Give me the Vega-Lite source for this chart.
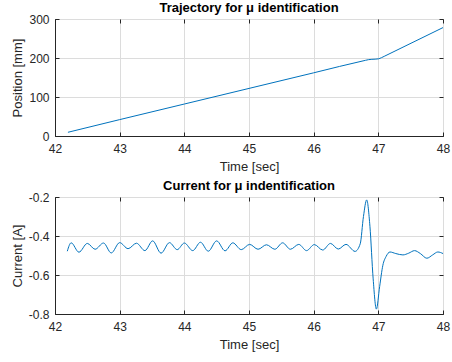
{
  "$schema": "https://vega.github.io/schema/vega-lite/v6.json",
  "background": "white",
  "padding": {"left": 10, "top": 1, "right": 0, "bottom": 5},
  "spacing": 5,
  "config": {
    "font": "Liberation Sans",
    "view": {"stroke": "#262626", "strokeWidth": 1},
    "axis": {
      "domainColor": "#262626",
      "domainWidth": 1,
      "tickColor": "#262626",
      "tickSize": -4,
      "labelColor": "#262626",
      "labelFont": "Liberation Sans",
      "labelFontSize": 12,
      "titleColor": "#262626",
      "titleFont": "Liberation Sans",
      "titleFontSize": 13,
      "titleFontWeight": "normal",
      "gridColor": "#dcdcdc",
      "gridWidth": 1
    },
    "title": {"font": "Liberation Sans", "fontSize": 13, "fontWeight": "bold", "color": "#000000", "offset": -2}
  },
  "vconcat": [
    {
      "width": 388,
      "height": 117,
      "title": "Trajectory for μ identification",
      "data": {"values": [
        {"t": 42.2, "pos": 9.5},
        {"t": 43.0, "pos": 42},
        {"t": 44.0, "pos": 82},
        {"t": 45.0, "pos": 122},
        {"t": 46.0, "pos": 162},
        {"t": 46.8, "pos": 194},
        {"t": 46.85, "pos": 195.8},
        {"t": 46.9, "pos": 196.6},
        {"t": 46.95, "pos": 197},
        {"t": 47.0, "pos": 197.8},
        {"t": 47.05, "pos": 201},
        {"t": 47.1, "pos": 205},
        {"t": 48.0, "pos": 278}
      ]},
      "layer": [
        {
          "mark": {"type": "line", "color": "#0072BD", "strokeWidth": 1, "interpolate": "monotone", "clip": true},
          "encoding": {
            "x": {"field": "t", "type": "quantitative", "scale": {"domain": [42, 48], "nice": false, "zero": false},
                  "axis": {"title": "Time [sec]", "values": [42, 43, 44, 45, 46, 47, 48], "labelPadding": 11, "titlePadding": 6, "labelFlush": false}},
            "y": {"field": "pos", "type": "quantitative", "scale": {"domain": [0, 300], "nice": false},
                  "axis": {"title": "Position [mm]", "values": [0, 100, 200, 300], "labelPadding": 10, "titlePadding": 4}}
          }
        },
        {
          "mark": {"type": "line", "opacity": 0},
          "encoding": {
            "x": {"field": "t", "type": "quantitative",
                  "axis": {"orient": "top", "title": null, "labels": false, "grid": false, "domain": false, "values": [42, 43, 44, 45, 46, 47, 48]}},
            "y": {"field": "pos", "type": "quantitative",
                  "axis": {"orient": "right", "title": null, "labels": false, "grid": false, "domain": false, "values": [0, 100, 200, 300]}}
          }
        }
      ],
      "resolve": {"axis": {"x": "independent", "y": "independent"}}
    },
    {
      "width": 388,
      "height": 117,
      "title": "Current for μ indentification",
      "data": {"values": [
        {"t": 42.19, "cur": -0.478},
        {"t": 42.25, "cur": -0.435},
        {"t": 42.37, "cur": -0.483},
        {"t": 42.50, "cur": -0.438},
        {"t": 42.62, "cur": -0.468},
        {"t": 42.75, "cur": -0.436},
        {"t": 42.87, "cur": -0.487},
        {"t": 43.00, "cur": -0.434},
        {"t": 43.13, "cur": -0.465},
        {"t": 43.26, "cur": -0.437},
        {"t": 43.39, "cur": -0.475},
        {"t": 43.51, "cur": -0.425},
        {"t": 43.64, "cur": -0.488},
        {"t": 43.77, "cur": -0.434},
        {"t": 43.89, "cur": -0.470},
        {"t": 44.00, "cur": -0.436},
        {"t": 44.13, "cur": -0.475},
        {"t": 44.25, "cur": -0.432},
        {"t": 44.37, "cur": -0.478},
        {"t": 44.50, "cur": -0.425},
        {"t": 44.63, "cur": -0.476},
        {"t": 44.75, "cur": -0.435},
        {"t": 44.88, "cur": -0.470},
        {"t": 45.01, "cur": -0.443},
        {"t": 45.14, "cur": -0.468},
        {"t": 45.27, "cur": -0.445},
        {"t": 45.40, "cur": -0.468},
        {"t": 45.52, "cur": -0.435},
        {"t": 45.64, "cur": -0.468},
        {"t": 45.77, "cur": -0.443},
        {"t": 45.89, "cur": -0.475},
        {"t": 46.01, "cur": -0.444},
        {"t": 46.14, "cur": -0.472},
        {"t": 46.26, "cur": -0.438},
        {"t": 46.38, "cur": -0.467},
        {"t": 46.50, "cur": -0.443},
        {"t": 46.64, "cur": -0.479},
        {"t": 46.72, "cur": -0.44},
        {"t": 46.77, "cur": -0.30},
        {"t": 46.82, "cur": -0.215},
        {"t": 46.87, "cur": -0.35},
        {"t": 46.92, "cur": -0.62},
        {"t": 46.97, "cur": -0.775},
        {"t": 47.02, "cur": -0.66},
        {"t": 47.07, "cur": -0.55},
        {"t": 47.12, "cur": -0.505},
        {"t": 47.18, "cur": -0.482},
        {"t": 47.27, "cur": -0.49},
        {"t": 47.38, "cur": -0.497},
        {"t": 47.47, "cur": -0.488},
        {"t": 47.56, "cur": -0.475},
        {"t": 47.65, "cur": -0.49},
        {"t": 47.75, "cur": -0.514},
        {"t": 47.84, "cur": -0.497},
        {"t": 47.92, "cur": -0.482},
        {"t": 48.0, "cur": -0.49}
      ]},
      "layer": [
        {
          "mark": {"type": "line", "color": "#0072BD", "strokeWidth": 1, "interpolate": "monotone", "clip": true},
          "encoding": {
            "x": {"field": "t", "type": "quantitative", "scale": {"domain": [42, 48], "nice": false, "zero": false},
                  "axis": {"title": "Time [sec]", "values": [42, 43, 44, 45, 46, 47, 48], "labelPadding": 11, "titlePadding": 6, "labelFlush": false}},
            "y": {"field": "cur", "type": "quantitative", "scale": {"domain": [-0.8, -0.2], "nice": false, "zero": false},
                  "axis": {"title": "Current [A]", "values": [-0.8, -0.6, -0.4, -0.2], "format": ".1f", "labelExpr": "replace(datum.label, '−', '-')", "labelPadding": 10, "titlePadding": 4}}
          }
        },
        {
          "mark": {"type": "line", "opacity": 0},
          "encoding": {
            "x": {"field": "t", "type": "quantitative",
                  "axis": {"orient": "top", "title": null, "labels": false, "grid": false, "domain": false, "values": [42, 43, 44, 45, 46, 47, 48]}},
            "y": {"field": "cur", "type": "quantitative",
                  "axis": {"orient": "right", "title": null, "labels": false, "grid": false, "domain": false, "values": [-0.8, -0.6, -0.4, -0.2]}}
          }
        }
      ],
      "resolve": {"axis": {"x": "independent", "y": "independent"}}
    }
  ]
}
